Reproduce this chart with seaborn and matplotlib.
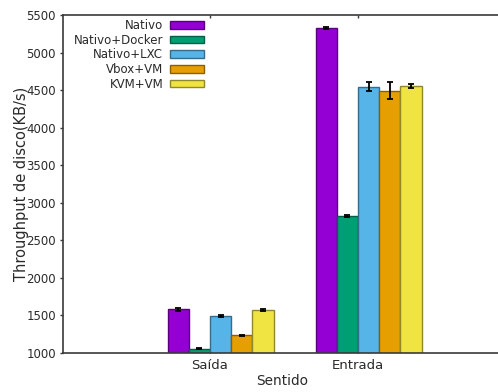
import matplotlib
matplotlib.use("Agg")
import matplotlib.pyplot as plt
import matplotlib.colors as mcolors
from matplotlib.container import BarContainer
import numpy as np
import pandas as pd
import seaborn as sns

# Disk throughput (KB/s) per direction and virtualization setup
sentidos = ["Saída", "Entrada"]
configs = ["Nativo", "Nativo+Docker", "Nativo+LXC", "Vbox+VM", "KVM+VM"]
saida = [1582, 1057, 1492, 1236, 1572]
entrada = [5325, 2825, 4542, 4490, 4555]
saida_err = [20, 10, 10, 8, 10]
entrada_err = [10, 12, 60, 112, 33]
cores = ["#9400d3", "#009e73", "#56b4e9", "#e69f00", "#f0e442"]
y_ticks = [1000, 1500, 2000, 2500, 3000, 3500, 4000, 4500, 5000, 5500]

df = pd.DataFrame({
    "Sentido": np.repeat(sentidos, len(configs)),
    "Config": configs * len(sentidos),
    "Valor": saida + entrada,
})

sns.set_theme(style="white")
plt.rcParams["font.family"] = ["DejaVu Sans"]
text_color = "#2a2a2a"
spine_color = "#3a3a3a"

W, H = 498, 392
fig = plt.figure(figsize=(W / 100, H / 100), dpi=100)
left_px, right_px, top_px, bottom_px = 63, 502, 15, 353
ax = fig.add_axes([left_px / W, 1 - bottom_px / H,
                   (right_px - left_px) / W, (bottom_px - top_px) / H])

bar_w = 0.143
sns.barplot(data=df, x="Sentido", y="Valor", hue="Config", order=sentidos,
            hue_order=configs, palette=cores, width=bar_w * len(configs),
            saturation=1, errorbar=None, legend=False, ax=ax)

bars = [c for c in ax.containers if isinstance(c, BarContainer)]

# darker outline for each bar, then error bars at the bar centres
for i, (cont, cor) in enumerate(zip(bars, cores)):
    rgb = np.array(mcolors.to_rgb(cor)) * 0.6
    for bar in cont:
        bar.set_edgecolor(rgb)
        bar.set_linewidth(1.0)
    xs = [b.get_x() + b.get_width() / 2 for b in cont]
    ax.errorbar(xs, [saida[i], entrada[i]], yerr=[saida_err[i], entrada_err[i]],
                fmt="none", ecolor="black", elinewidth=1.3, capsize=2.4,
                capthick=1.3, zorder=3)

ax.set_ylim(1000, 5500)
ax.set_yticks(y_ticks)
ax.set_yticklabels([str(v) for v in y_ticks])
pos = np.arange(len(sentidos)) - bar_w / 2
ax.set_xticks(pos)
ax.set_xticklabels(sentidos)
ax.set_xlim(-1.065, 1.901)
ax.set_axisbelow(True)

for s in ax.spines.values():
    s.set_visible(True)
    s.set_color(spine_color)
    s.set_linewidth(1.2)
ax.spines["right"].set_visible(False)

ax.tick_params(axis="y", which="major", left=True, right=False, direction="out",
               length=2.5, width=1, color=spine_color, labelsize=8.5,
               labelcolor=text_color, pad=2.5)
ax.tick_params(axis="x", which="major", bottom=True, top=True, direction="in",
               length=2.5, width=1, color=spine_color, labelsize=9.5,
               labelcolor=text_color, pad=4)

ax.set_xlabel("Sentido", fontsize=9.8, color=text_color, labelpad=2)
ax.set_ylabel("Throughput de disco(KB/s)", fontsize=10.5, color=text_color)
ax.yaxis.set_label_coords(-0.078, 0.5)

leg = ax.legend(bars, configs, loc="upper right",
                bbox_to_anchor=((204 - left_px) / (right_px - left_px),
                                (bottom_px - 19) / (bottom_px - top_px)),
                frameon=False, markerfirst=False, fontsize=8.5,
                handlelength=2.85, handleheight=0.6, handletextpad=0.6,
                labelspacing=0.14, borderpad=0, borderaxespad=0)
for t in leg.get_texts():
    t.set_color(text_color)

fig.savefig("out.png", dpi=100)
